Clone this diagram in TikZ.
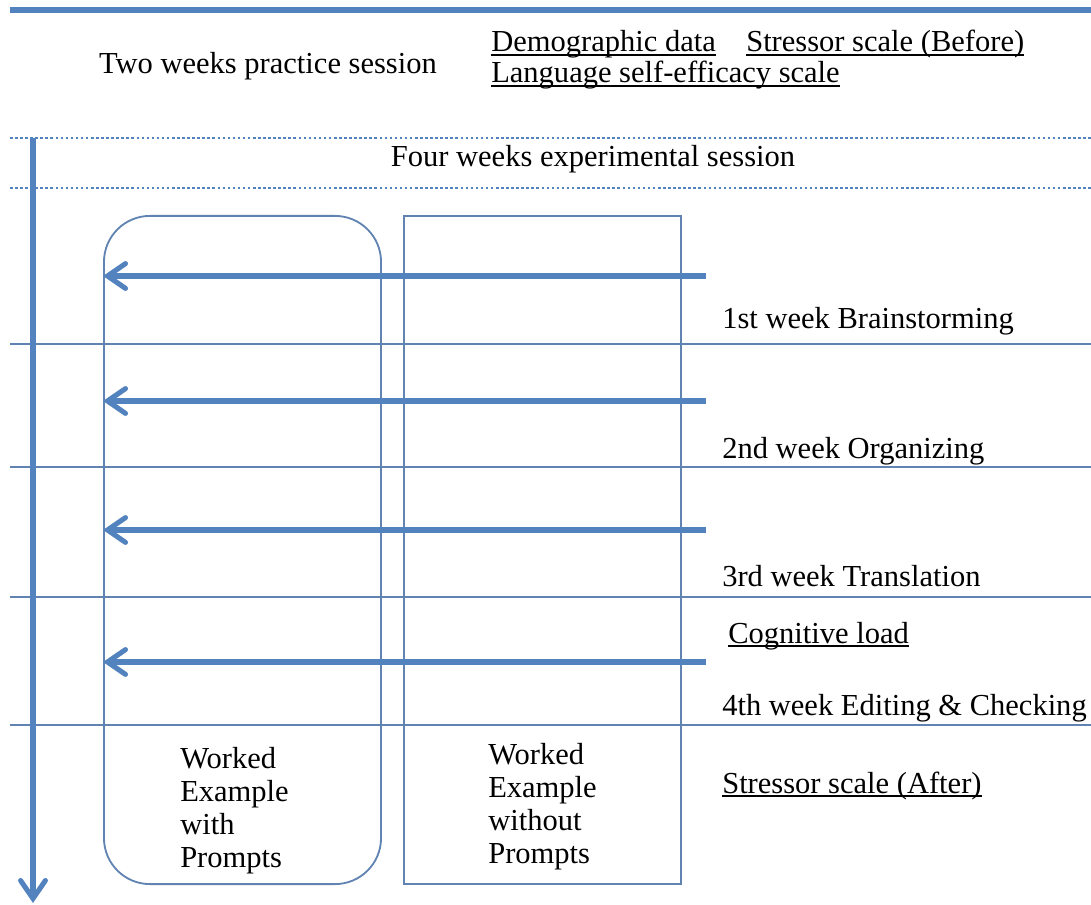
\documentclass[tikz,border=0pt]{standalone}
\usepackage{xcolor}
\definecolor{lineblue}{RGB}{82,131,190}
\definecolor{thinblue}{RGB}{96,131,178}
\usepackage{fontspec}
\setmainfont{LiberationSerif}[Extension=.ttf, UprightFont=*-Regular, BoldFont=*-Bold]
\usepackage{tikz}
\usetikzlibrary{arrows.meta}
\newcommand{\ulabel}[1]{\setbox0=\hbox{#1}\rlap{\rule[-2.6pt]{\wd0}{1pt}}\box0}

\begin{document}
\begin{tikzpicture}[x=0.025cm, y=-0.025cm,
  every node/.style={font=\fontsize{21.7}{23.5}\selectfont, inner sep=0pt},
  thickline/.style={lineblue, line width=3.6pt},
  flow/.style={lineblue, line width=3.6pt, -{Straight Barb[length=0.45cm, width=0.62cm, line cap=round]}},
  sep/.style={thinblue, line width=1.3pt},
  dotsep/.style={lineblue, line width=1.8pt, dash pattern=on 1.8pt off 1.8pt},
  group/.style={draw=thinblue, line width=1.3pt, minimum width=6.925cm, minimum height=16.7cm}]
  \useasboundingbox (0,0) rectangle (1091,905);

  % Practice session
  \draw[thickline] (10,10) -- (1091,10);
  \node[anchor=base] (practice) at (268,74) {Two weeks practice session};
  \node[anchor=base west] (demo) at (491,52) {\ulabel{Demographic data}};
  \node[anchor=base west] (stressb) at (746,52) {\ulabel{Stressor scale (Before)}};
  \node[anchor=base west] (lse) at (491,83) {\ulabel{Language self-efficacy scale}};

  % Experimental session
  \draw[dotsep] (10,138) -- (1091,138);
  \draw[dotsep] (10,188) -- (1091,188);
  \node[anchor=base] (exper) at (593,167) {Four weeks experimental session};

  % Week separators
  \draw[sep] (10,344) -- (1091,344);
  \draw[sep] (10,467) -- (1091,467);
  \draw[sep] (10,597) -- (1091,597);
  \draw[sep] (10,725) -- (1091,725);

  % Groups
  \node[group, rounded corners=1.15cm] (wep) at (242.5,550) {};
  \node[group] (wenp) at (542.5,550) {};
  \node[anchor=north west, align=left] (weptext) at (180,747) {Worked\\Example\\with\\Prompts};
  \node[anchor=north west, align=left] (wenptext) at (488,743) {Worked\\Example\\without\\Prompts};

  % Time line
  \coordinate (tstart) at (33,138);
  \coordinate (tend) at (33,903);
  \draw[flow] (tstart) -- (tend);

  % Weekly tasks
  \coordinate (w1) at (706,276);
  \coordinate (w2) at (706,401);
  \coordinate (w3) at (706,530);
  \coordinate (w4) at (706,662);
  \draw[flow] (w1) -- (wep.west |- w1);
  \draw[flow] (w2) -- (wep.west |- w2);
  \draw[flow] (w3) -- (wep.west |- w3);
  \draw[flow] (w4) -- (wep.west |- w4);
  \node[anchor=base west] (week1) at (722,329) {1st week Brainstorming};
  \node[anchor=base west] (week2) at (722,458) {2nd week Organizing};
  \node[anchor=base west] (week3) at (722,586) {3rd week Translation};
  \node[anchor=base west] (cogload) at (728,643) {\ulabel{Cognitive load}};
  \node[anchor=base west] (week4) at (722,715) {4th week Editing \& Checking};
  \node[anchor=base west] (stressa) at (722,793) {\ulabel{Stressor scale (After)}};
\end{tikzpicture}
\end{document}
